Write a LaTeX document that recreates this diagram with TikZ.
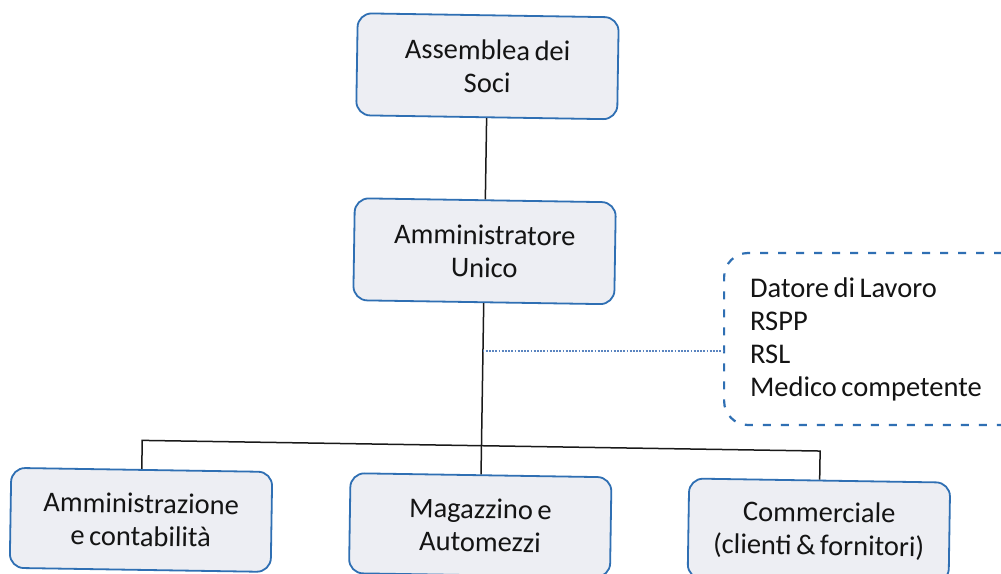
\documentclass[tikz,border=0pt]{standalone}
\usepackage{fontspec}
\setmainfont{Carlito}[WordSpace=0.7]
\usetikzlibrary{calc}
\definecolor{boxblue}{HTML}{2F6FB3}
\definecolor{boxfill}{HTML}{EDEEF3}
\definecolor{txt}{HTML}{141414}
\definecolor{dotblue}{HTML}{5B85C0}
\tikzset{
  orgbox/.style={draw=boxblue, line width=1.8pt, fill=boxfill, rounded corners=14pt,
    minimum width=261pt, minimum height=102pt, inner sep=0pt, align=center,
    text=txt, font=\fontsize{28.5}{33}\selectfont},
  link/.style={draw=black!90, line width=1.5pt},
  dashbox/.style={draw=boxblue, line width=2.2pt, dash pattern=on 8pt off 10pt,
    rounded corners=24pt, align=flush left, text width=250pt, inner xsep=26pt,
    minimum height=172pt, text=txt, font=\fontsize{28.5}{33}\selectfont},
  dotline/.style={draw=dotblue, line width=1.1pt, dash pattern=on 1.8pt off 1.4pt}
}
\begin{document}
\begin{tikzpicture}[x=1pt,y=-1pt]
\useasboundingbox (0,0) rectangle (1001,573);
\fill[white] (0,0) rectangle (1001,573);
\begin{scope}[rotate around={-0.9:(500,286)}, transform shape]
  \node[orgbox] (ass) at (484,66.5) {Assemblea dei\\Soci};
  \node[orgbox] (amm) at (484,251.5) {Amministratore\\Unico};
  \node[orgbox, minimum height=100pt] (c1) at (144.7,525.5) {Amministrazione\\e contabilità};
  \node[orgbox, minimum height=100pt] (c2) at (484,525.5) {Magazzino e\\Automezzi};
  \node[orgbox, minimum height=100pt] (c3) at (822.7,525.5) {Commerciale\\(clienti \& fornitori)};
  \coordinate (bus) at (484,446);
  \draw[link] (ass) -- (amm);
  \draw[link] (amm) -- (bus);
  \draw[link] (c1.north) |- (bus) -| (c3.north);
  \draw[link] (bus) -- (c2.north);
\end{scope}
\node[dashbox, anchor=west] (sic) at (723,339)
  {Datore di Lavoro\\RSPP\\RSL\\Medico competente};
\coordinate (tap) at (482.5,351);
\draw[dotline] (tap) -- (tap -| sic.west);
\end{tikzpicture}
\end{document}
